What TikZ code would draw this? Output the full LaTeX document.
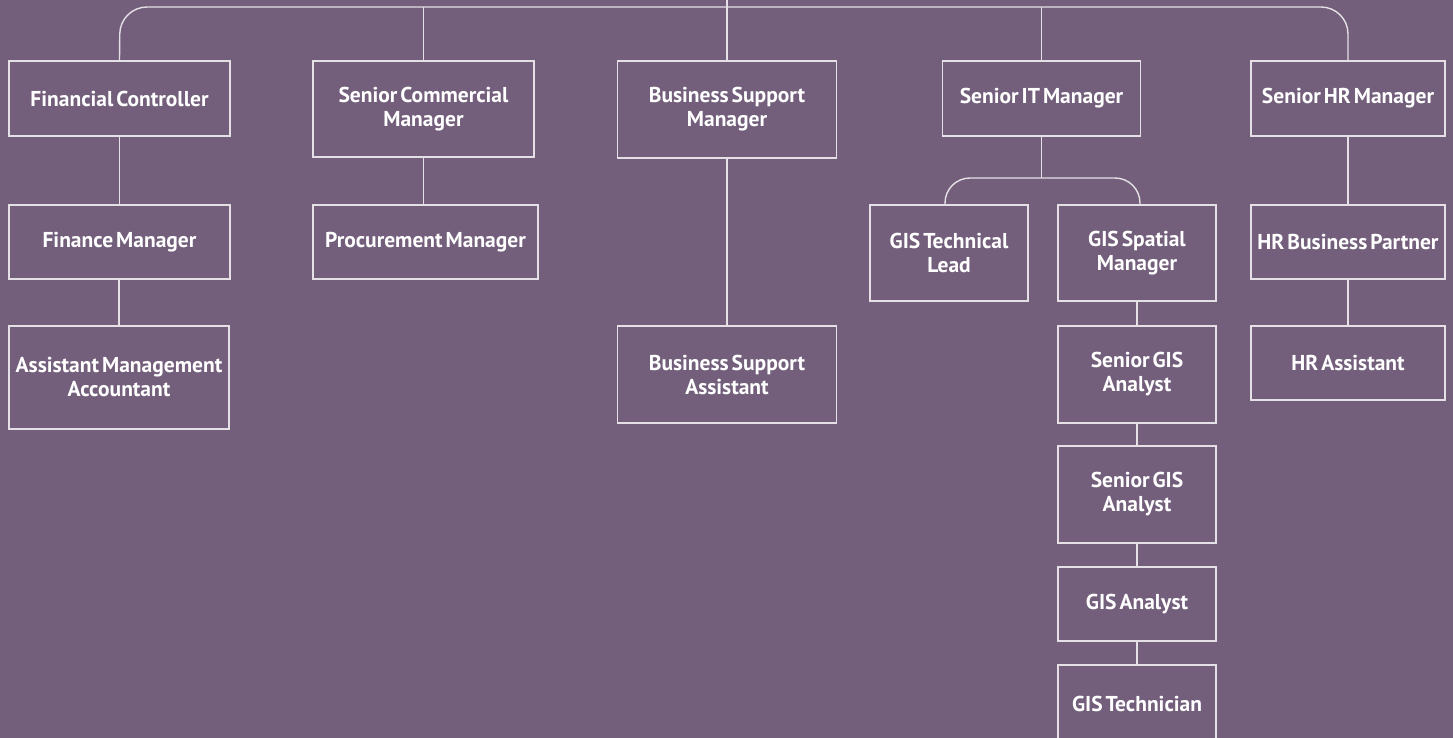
\documentclass[tikz,border=0pt]{standalone}
\usepackage{fontspec}
\setmainfont{PT Sans}[WordSpace=0.55]
\definecolor{bg}{HTML}{735F7B}
\definecolor{ln}{HTML}{E4E0E6}
\tikzset{
  x=1pt, y=-1pt,
  box/.style={draw=ln, line width=1.4pt, inner sep=0pt, align=center,
    text=white, font=\fontsize{21.5}{24}\selectfont\bfseries},
  conn/.style={draw=ln, line width=1.4pt}
}
\begin{document}
\begin{tikzpicture}
\path[use as bounding box, fill=bg] (0,0) rectangle (1453,738);
\begin{scope}
\clip (0,0) rectangle (1453,738);
% top row
\node[box, minimum width=221pt, minimum height=75pt] (fc) at (119.5,98.5) {Financial Controller};
\node[box, minimum width=221pt, minimum height=96pt] (scm) at (423.5,109) {Senior Commercial\\Manager};
\node[box, minimum width=219pt, minimum height=97pt] (bsm) at (727,109.5) {Business Support\\Manager};
\node[box, minimum width=198pt, minimum height=75pt] (sit) at (1041.5,98.5) {Senior IT Manager};
\node[box, minimum width=194pt, minimum height=75pt] (shr) at (1348,98.5) {Senior HR Manager};
% second row
\node[box, minimum width=221pt, minimum height=74pt] (fm) at (119.5,242) {Finance Manager};
\node[box, minimum width=225pt, minimum height=74pt] (pm) at (425.5,242) {Procurement Manager};
\node[box, minimum width=158pt, minimum height=96pt] (gtl) at (949,253) {GIS Technical\\Lead};
\node[box, minimum width=158pt, minimum height=96pt] (gsm) at (1137,253) {GIS Spatial\\Manager};
\node[box, minimum width=194pt, minimum height=74pt] (hbp) at (1348,242) {HR Business Partner};
% third row
\node[box, minimum width=220pt, minimum height=103pt] (ama) at (119,377.5) {Assistant Management\\Accountant};
\node[box, minimum width=219pt, minimum height=97pt] (bsa) at (727,374.5) {Business Support\\Assistant};
\node[box, minimum width=158pt, minimum height=97pt] (sga1) at (1137,374.5) {Senior GIS\\Analyst};
\node[box, minimum width=194pt, minimum height=74pt] (hra) at (1348,363) {HR Assistant};
% GIS column
\node[box, minimum width=158pt, minimum height=97pt] (sga2) at (1137,494.5) {Senior GIS\\Analyst};
\node[box, minimum width=158pt, minimum height=74pt] (ga) at (1137,604) {GIS Analyst};
\node[box, minimum width=158pt, minimum height=78pt] (gt) at (1137,704) {GIS Technician};
\coordinate (top) at (727,0);
% connectors
\draw[conn, rounded corners=27pt] (fc.north) -- (120,7) -- (1348,7) -- (shr.north);
\draw[conn] (top) -- (bsm.north);
\draw[conn] (scm.north |- 0,7) -- (scm.north);
\draw[conn] (sit.north |- 0,7) -- (sit.north);
\draw[conn] (fc.south) -- (fm.north -| fc.south);
\draw[conn] (fm.south -| ama.north) -- (ama.north);
\draw[conn] (scm.south) -- (scm.south |- pm.north);
\draw[conn] (bsm.south) -- (bsa.north);
\draw[conn] (shr.south) -- (hbp.north);
\draw[conn] (hbp.south) -- (hra.north);
\draw[conn] (sit.south) -- (1041.5,178);
\draw[conn, rounded corners=25pt] (gtl.north -| 945,0) -- (945,178) -- (1140,178) -- (gsm.north -| 1140,0);
\draw[conn] (gsm.south) -- (sga1.north);
\draw[conn] (sga1.south) -- (sga2.north);
\draw[conn] (sga2.south) -- (ga.north);
\draw[conn] (ga.south) -- (gt.north);
\end{scope}
\end{tikzpicture}
\end{document}
